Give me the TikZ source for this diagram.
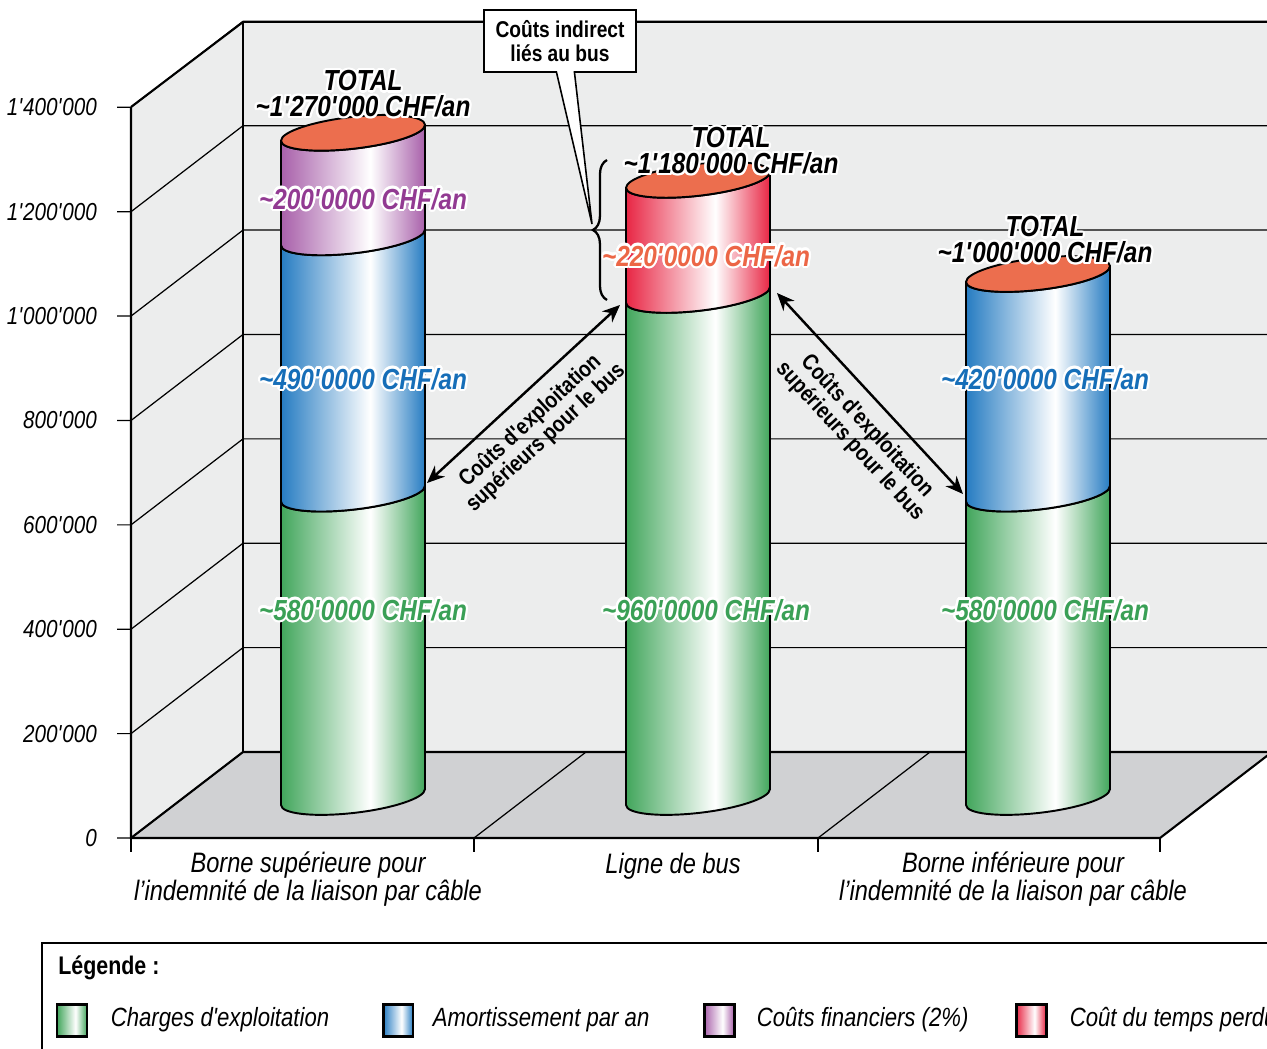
\documentclass[tikz,border=0pt]{standalone}
\usepackage{fontspec}
\setmainfont{Liberation Sans}
\newfontfamily\narrowfont{Liberation Sans}[FakeStretch=0.84]
\usepackage{tikz}
\usetikzlibrary{arrows.meta, positioning, shapes.callouts, decorations.pathreplacing}
\usepackage[copies]{contour}
\contourlength{1.3pt}
\contournumber{16}
\usepackage{xcolor}

\definecolor{wallgray}{RGB}{236,237,237}
\definecolor{floorgray}{RGB}{208,209,211}
\definecolor{grnedge}{RGB}{66,166,92}
\definecolor{bluedge}{RGB}{38,124,194}
\definecolor{puredge}{RGB}{168,96,170}
\definecolor{rededge}{RGB}{232,38,68}
\definecolor{captop}{RGB}{236,110,78}
\definecolor{grntext}{RGB}{58,160,86}
\definecolor{blutext}{RGB}{22,110,184}
\definecolor{purtext}{RGB}{146,58,146}
\definecolor{redtext}{RGB}{236,102,70}

\pgfdeclarehorizontalshading{cylgrn}{100bp}{color(0bp)=(grnedge); color(25bp)=(grnedge); color(56bp)=(white); color(75bp)=(grnedge); color(100bp)=(grnedge)}
\pgfdeclarehorizontalshading{cylblu}{100bp}{color(0bp)=(bluedge); color(25bp)=(bluedge); color(56bp)=(white); color(75bp)=(bluedge); color(100bp)=(bluedge)}
\pgfdeclarehorizontalshading{cylpur}{100bp}{color(0bp)=(puredge); color(25bp)=(puredge); color(56bp)=(white); color(75bp)=(puredge); color(100bp)=(puredge)}
\pgfdeclarehorizontalshading{cylred}{100bp}{color(0bp)=(rededge); color(25bp)=(rededge); color(56bp)=(white); color(75bp)=(rededge); color(100bp)=(rededge)}

\newcommand{\sq}{\textquotesingle}
% one stacked piece of a cylinder: centre x, lower value, upper value, shading
\newcommand{\cylpart}[4]{%
  \begin{scope}[shift={(#1,797)}, yslant=0.11]
    \draw[cylline, shade, shading=#4]
      (-72,-0.523*#3) -- (-72,-0.523*#2)
      arc[start angle=180, end angle=0, x radius=72, y radius=16]
      -- (72,-0.523*#3)
      arc[start angle=0, end angle=180, x radius=72, y radius=16] -- cycle;
  \end{scope}}
% the lid: centre x, value
\newcommand{\cyltop}[2]{%
  \begin{scope}[shift={(#1,797)}, yslant=0.11]
    \draw[cylline, fill=captop] (0,-0.523*#2) ellipse[x radius=72, y radius=16];
  \end{scope}}

\begin{document}
\begin{tikzpicture}[
  x=0.02cm, y=-0.02cm,
  wall/.style={fill=wallgray},
  floor/.style={fill=floorgray},
  gridline/.style={line width=0.7pt},
  frame/.style={line width=1.2pt},
  cylline/.style={line width=1.1pt, line join=round},
  ylab/.style={anchor=east, font=\narrowfont\itshape\fontsize{14}{16}\selectfont},
  catlab/.style={align=center, font=\narrowfont\itshape\fontsize{16}{14.7}\selectfont},
  seglab/.style={font=\narrowfont\bfseries\itshape\fontsize{16.5}{18}\selectfont},
  totlab/.style={align=center, font=\narrowfont\bfseries\itshape\fontsize{16.5}{14.7}\selectfont},
  arrlab/.style={align=center, inner sep=1pt, font=\narrowfont\bfseries\fontsize{13}{13}\selectfont},
  dblarr/.style={{Stealth[length=10pt,width=8.5pt]}-{Stealth[length=10pt,width=8.5pt]}, line width=1.4pt},
  callbox/.style={rectangle callout, draw, fill=white, line width=0.9pt, align=center,
                  minimum width=3.04cm, minimum height=1.24cm, callout pointer width=0.36cm,
                  font=\narrowfont\bfseries\fontsize{13}{13.6}\selectfont},
  swatch/.style={draw, line width=1.7pt, minimum width=0.6cm, minimum height=0.64cm, inner sep=0pt},
  keylab/.style={inner sep=0pt, anchor=west, font=\narrowfont\itshape\fontsize{15}{16}\selectfont},
]
\useasboundingbox (0,0) rectangle (1267,1048);
\clip (0,0) rectangle (1267,1048);

%% ---- walls and floor ----
\fill[wall] (131,107) -- (243,22) -- (1280,22) -- (1280,752) -- (243,752) -- (131,838) -- cycle;
\fill[floor] (131,838) -- (243,752) -- (1272,752) -- (1160,838) -- cycle;

\foreach \v/\txt in {0/0, 200/200\sq000, 400/400\sq000, 600/600\sq000, 800/800\sq000,
                     1000/1\sq000\sq000, 1200/1\sq200\sq000, 1400/1\sq400\sq000} {
  \pgfmathsetmacro{\yy}{838-0.5219*\v}
  \draw[gridline] (117,\yy) -- (131,\yy) -- (243,\yy-86) -- (1280,\yy-86);
  \node[ylab] (y\v) at (103,\yy) {\txt};
}

\draw[frame] (131,107) -- (131,838) -- (1160,838) -- (1272,752);
\draw[frame] (131,838) -- (243,752) -- (1280,752);
\draw[frame] (243,752) -- (243,22) -- (1280,22);
\draw[frame] (131,107) -- (243,22);
\draw[gridline] (474,838) -- (586,752);
\draw[gridline] (818,838) -- (930,752);
\foreach \xx in {131,474,818,1160}
  \draw[frame] (\xx,838) -- (\xx,852);

%% ---- bar 1: borne superieure ----
\cylpart{353}{0}{580}{cylgrn}
\cylpart{353}{580}{1070}{cylblu}
\cylpart{353}{1070}{1270}{cylpur}
\cyltop{353}{1270}

%% ---- bar 2: ligne de bus ----
\cylpart{698}{0}{960}{cylgrn}
\cylpart{698}{960}{1180}{cylred}
\cyltop{698}{1180}

%% ---- bar 3: borne inferieure ----
\cylpart{1038}{0}{580}{cylgrn}
\cylpart{1038}{580}{1000}{cylblu}
\cyltop{1038}{1000}

%% ---- values on the bars ----
\node[seglab, text=grntext] (b1grn) at (363,611) {\contour{white}{\textasciitilde580\sq0000 CHF/an}};
\node[seglab, text=blutext] (b1blu) at (363,380) {\contour{white}{\textasciitilde490\sq0000 CHF/an}};
\node[seglab, text=purtext] (b1pur) at (363,200) {\contour{white}{\textasciitilde200\sq0000 CHF/an}};
\node[seglab, text=grntext] (b2grn) at (706,611) {\contour{white}{\textasciitilde960\sq0000 CHF/an}};
\node[seglab, text=redtext] (b2red) at (706,257) {\contour{white}{\textasciitilde220\sq0000 CHF/an}};
\node[seglab, text=grntext] (b3grn) at (1045,611) {\contour{white}{\textasciitilde580\sq0000 CHF/an}};
\node[seglab, text=blutext] (b3blu) at (1045,380) {\contour{white}{\textasciitilde420\sq0000 CHF/an}};

\node[totlab] (tot1) at (363,95) {\contour{white}{TOTAL}\\\contour{white}{\textasciitilde1\sq270\sq000 CHF/an}};
\node[totlab] (tot2) at (731,152) {\contour{white}{TOTAL}\\\contour{white}{\textasciitilde1\sq180\sq000 CHF/an}};
\node[totlab] (tot3) at (1045,241) {\contour{white}{TOTAL}\\\contour{white}{\textasciitilde1\sq000\sq000 CHF/an}};

%% ---- categories ----
\node[catlab] (cat1) at (308,879) {Borne supérieure pour\\l’indemnité de la liaison par câble};
\node[catlab] (cat2) at (673,866) {Ligne de bus};
\node[catlab] (cat3) at (1013,879) {Borne inférieure pour\\l’indemnité de la liaison par câble};

%% ---- differences ----
\coordinate (b1top) at (427,483);
\coordinate (b2left) at (620,305);
\coordinate (b2right) at (777,293);
\coordinate (b3top) at (963,494);

\draw[dblarr] (b1top) -- node[arrlab, sloped, below=6pt, pos=0.45] (diff1) {Coûts d'exploitation\\supérieurs pour le bus} (b2left);
\draw[dblarr] (b2right) -- node[arrlab, sloped, below=6pt, pos=0.58] (diff2) {Coûts d'exploitation\\supérieurs pour le bus} (b3top);

\coordinate (bracetip) at (592,224);
\draw[line width=1.3pt, decorate, decoration={brace, amplitude=8pt}] (607,300) -- (607,160);
\node[callbox, callout absolute pointer={(bracetip)}] (indirect) at (560,41) {Coûts indirect\\liés au bus};

%% ---- legend ----
\draw[frame] (1280,943) -- (42,943) -- (42,1060);
\node[anchor=west, inner sep=0pt, font=\narrowfont\bfseries\fontsize{14.5}{16}\selectfont] (legtitle) at (58,968) {Légende :};

\node[swatch, shade, shading=cylgrn] (key1) at (72,1020) {};
\node[keylab, right=0.44cm of key1] (keytxt1) {Charges d'exploitation};
\node[swatch, shade, shading=cylblu] (key2) at (398,1020) {};
\node[keylab, right=0.36cm of key2] (keytxt2) {Amortissement par an};
\node[swatch, shade, shading=cylpur] (key3) at (719,1020) {};
\node[keylab, right=0.42cm of key3] (keytxt3) {Coûts financiers (2\%)};
\node[swatch, shade, shading=cylred] (key4) at (1031,1020) {};
\node[keylab, right=0.44cm of key4] (keytxt4) {Coût du temps perdu};

\end{tikzpicture}
\end{document}
